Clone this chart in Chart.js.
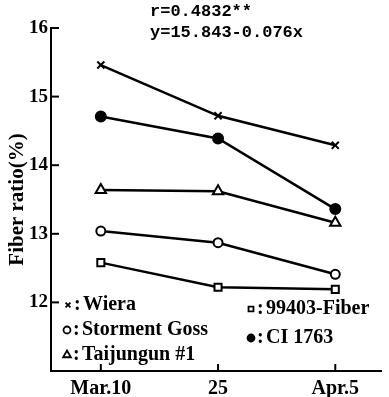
<!DOCTYPE html>
<html lang="en">
<head>
  <meta charset="UTF-8">
  <title>Fiber ratio</title>
  <script src="https://cdn.jsdelivr.net/npm/chart.js"></script>
  <style>
    body { margin: 0; background: #fff; }
  </style>
</head>
<body>
  <canvas id="chart" width="389" height="397"></canvas>

  <script>
    // sampling dates (x positions 0, 1, 2)
    const dateLabels = ['Mar.10', '25', 'Apr.5'];
    const datePos = [0, 1, 2];

    // fiber ratio (%) per variety
    const wiera = [15.46, 14.72, 14.29];
    const stormentGoss = [13.04, 12.87, 12.41];
    const taijungun = [13.64, 13.62, 13.16];
    const fiber99403 = [12.58, 12.22, 12.19];
    const ci1763 = [14.71, 14.39, 13.36];

    const yTicks = [12, 13, 14, 15, 16];
    const regressionText = ['r=0.4832**', 'y=15.843-0.076x'];

    const serif = '"Liberation Serif", "DejaVu Serif", serif';

    function series(label, values, style, filled, radius) {
      return {
        label: label,
        data: values.map((v, i) => ({ x: datePos[i], y: v })),
        borderColor: '#000',
        borderWidth: 2.5,
        pointStyle: style,
        pointRadius: radius,
        pointBorderWidth: 2,
        pointBorderColor: '#000',
        pointBackgroundColor: filled ? '#000' : '#fff',
        tension: 0
      };
    }

    // inward tick marks, legend notes and regression text
    const decorations = {
      id: 'decorations',
      afterDraw(chart) {
        const ctx = chart.ctx;
        const area = chart.chartArea;
        const xs = chart.scales.x;
        const ys = chart.scales.y;
        ctx.save();
        ctx.strokeStyle = '#000';
        ctx.lineWidth = 2;
        yTicks.forEach(t => {
          const y = ys.getPixelForValue(t);
          ctx.beginPath();
          ctx.moveTo(area.left, y);
          ctx.lineTo(area.left + 8, y);
          ctx.stroke();
        });
        datePos.forEach(p => {
          const x = xs.getPixelForValue(p);
          ctx.beginPath();
          ctx.moveTo(x, area.bottom);
          ctx.lineTo(x, area.bottom - 7);
          ctx.stroke();
        });

        // legend notes
        const notes = [
          { style: 'crossRot', filled: false, r: 3.5, text: 'Wiera', x: 68, y: 305 },
          { style: 'circle', filled: false, r: 3.5, text: 'Storment Goss', x: 67, y: 330 },
          { style: 'triangle', filled: false, r: 4.5, text: 'Taijungun #1', x: 67, y: 355 },
          { style: 'rect', filled: false, r: 3.5, text: '99403-Fiber', x: 251, y: 309 },
          { style: 'circle', filled: true, r: 3.5, text: 'CI 1763', x: 251, y: 338 }
        ];
        ctx.font = 'bold 20px ' + serif;
        ctx.textBaseline = 'middle';
        ctx.textAlign = 'left';
        ctx.fillStyle = '#000';
        notes.forEach(n => {
          ctx.lineWidth = 1.8;
          ctx.fillStyle = n.filled ? '#000' : '#fff';
          Chart.helpers.drawPoint(ctx, { pointStyle: n.style, radius: n.r, borderWidth: 1.8 }, n.x, n.y);
          if (n.filled) ctx.fill();
          ctx.fillStyle = '#000';
          ctx.fillText(':', n.x + 6, n.y);
          ctx.fillText(n.text, n.x + 15, n.y);
        });

        // regression note
        ctx.font = 'bold 17px "Liberation Mono", monospace';
        ctx.fillText(regressionText[0], 150, 12);
        ctx.fillText(regressionText[1], 150, 33);
        ctx.restore();
      }
    };

    new Chart(document.getElementById('chart'), {
      type: 'line',
      data: {
        datasets: [
          series('Wiera', wiera, 'crossRot', false, 5),
          series('CI 1763', ci1763, 'circle', true, 5),
          series('Taijungun #1', taijungun, 'triangle', false, 6),
          series('Storment Goss', stormentGoss, 'circle', false, 4.5),
          series('99403-Fiber', fiber99403, 'rect', false, 5)
        ]
      },
      options: {
        responsive: false,
        animation: false,
        layout: { padding: { top: 28, right: 0, left: 0, bottom: 0 } },
        plugins: {
          legend: { display: false },
          tooltip: { enabled: false }
        },
        scales: {
          x: {
            type: 'linear',
            min: -0.425,
            max: 2.39,
            afterBuildTicks: scale => {
              scale.ticks = datePos.map(v => ({ value: v }));
            },
            afterFit: scale => { scale.height = 26; },
            grid: { display: false, drawTicks: false },
            border: { display: true, color: '#000', width: 2 },
            ticks: {
              color: '#000',
              padding: 6,
              maxRotation: 0,
              font: { family: serif, size: 20, weight: 'bold' },
              callback: v => dateLabels[datePos.indexOf(v)]
            }
          },
          y: {
            min: 11,
            max: 16,
            afterBuildTicks: scale => {
              scale.ticks = yTicks.map(v => ({ value: v }));
            },
            afterFit: scale => { scale.width = 51; },
            grid: { display: false, drawTicks: false },
            border: { display: true, color: '#000', width: 2 },
            title: {
              display: true,
              text: 'Fiber ratio(%)',
              color: '#000',
              padding: { top: 5, bottom: 0 },
              font: { family: serif, size: 21, weight: 'bold' }
            },
            ticks: {
              color: '#000',
              padding: 3,
              font: { family: serif, size: 19, weight: 'bold' }
            }
          }
        }
      },
      plugins: [decorations]
    });
  </script>
</body>
</html>
